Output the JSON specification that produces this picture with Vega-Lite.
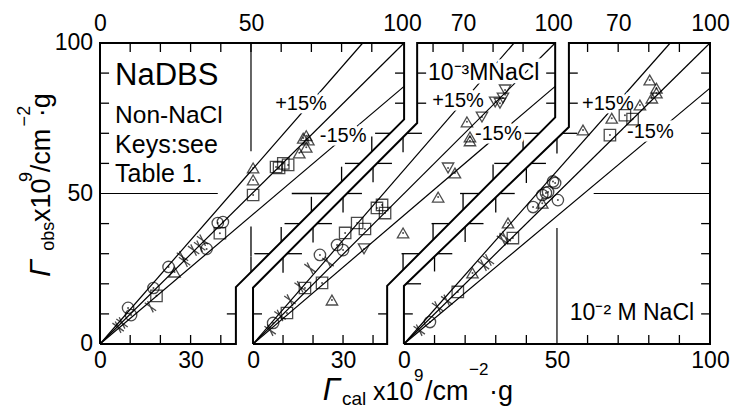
{
"$schema":"https://vega.github.io/schema/vega-lite/v6.json",
"width":610,"height":301,"autosize":"none",
"padding":{"left":100,"top":43,"right":21,"bottom":65},
"background":"white",
"config":{"view":{"stroke":null},"font":"Liberation Sans",
 "axis":{"domain":false,"grid":false,"ticks":false,"tickSize":0,"labelFont":"Liberation Sans","labelFontSize":23,"labelColor":"black","labelOverlap":false,"labelFlush":false}},
"datasets":{
 "one":[{}],
 "ylab":[{"v":0,"t":"0"},{"v":50,"t":"50"},{"v":100,"t":"100"}],
 "frames":[
  {"p":"A","o":0,"x":0,"y":0},{"p":"A","o":1,"x":0,"y":100},{"p":"A","o":2,"x":100.7,"y":100},{"p":"A","o":3,"x":100.7,"y":74.6},{"p":"A","o":4,"x":45,"y":18.9},{"p":"A","o":5,"x":45,"y":0},{"p":"A","o":6,"x":0,"y":0},
  {"p":"B","o":0,"x":0,"y":0},{"p":"B","o":1,"x":0,"y":18.7},{"p":"B","o":2,"x":54.7,"y":73.4},{"p":"B","o":3,"x":54.7,"y":100},{"p":"B","o":4,"x":100.7,"y":100},{"p":"B","o":5,"x":100.7,"y":75.3},{"p":"B","o":6,"x":44.7,"y":19.3},{"p":"B","o":7,"x":44.7,"y":0},{"p":"B","o":8,"x":0,"y":0},
  {"p":"C","o":0,"x":0,"y":0},{"p":"C","o":1,"x":0,"y":19.3},{"p":"C","o":2,"x":53.9,"y":72.1},{"p":"C","o":3,"x":53.9,"y":100},{"p":"C","o":4,"x":100,"y":100},{"p":"C","o":5,"x":100,"y":0},{"p":"C","o":6,"x":0,"y":0}
 ],
 "refs":[
  {"p":"A","l":"c","o":0,"x":0,"y":0},{"p":"A","l":"c","o":1,"x":100.7,"y":100},
  {"p":"A","l":"u","o":0,"x":0,"y":0},{"p":"A","l":"u","o":1,"x":87,"y":100},
  {"p":"A","l":"d","o":0,"x":0,"y":0},{"p":"A","l":"d","o":1,"x":100.7,"y":85.6},
  {"p":"B","l":"c","o":0,"x":0,"y":0},{"p":"B","l":"c","o":1,"x":100.7,"y":100},
  {"p":"B","l":"u","o":0,"x":0,"y":0},{"p":"B","l":"u","o":1,"x":87,"y":100},
  {"p":"B","l":"d","o":0,"x":0,"y":0},{"p":"B","l":"d","o":1,"x":100.7,"y":85.6},
  {"p":"C","l":"c","o":0,"x":0,"y":0},{"p":"C","l":"c","o":1,"x":100,"y":100},
  {"p":"C","l":"u","o":0,"x":0,"y":0},{"p":"C","l":"u","o":1,"x":87,"y":100},
  {"p":"C","l":"d","o":0,"x":0,"y":0},{"p":"C","l":"d","o":1,"x":100,"y":85}
 ],
 "ticks":[
  {"p":"A","x":10,"y":0,"x2":10,"y2":3},{"p":"A","x":20,"y":0,"x2":20,"y2":3},{"p":"A","x":30,"y":0,"x2":30,"y2":3},{"p":"A","x":40,"y":0,"x2":40,"y2":3},
  {"p":"A","x":10,"y":100,"x2":10,"y2":97},{"p":"A","x":20,"y":100,"x2":20,"y2":97},{"p":"A","x":30,"y":100,"x2":30,"y2":97},{"p":"A","x":40,"y":100,"x2":40,"y2":97},{"p":"A","x":50,"y":100,"x2":50,"y2":97},{"p":"A","x":60,"y":100,"x2":60,"y2":97},{"p":"A","x":70,"y":100,"x2":70,"y2":97},{"p":"A","x":80,"y":100,"x2":80,"y2":97},{"p":"A","x":90,"y":100,"x2":90,"y2":97},
  {"p":"A","x":0,"y":10,"x2":3,"y2":10},{"p":"A","x":0,"y":20,"x2":3,"y2":20},{"p":"A","x":0,"y":30,"x2":3,"y2":30},{"p":"A","x":0,"y":40,"x2":3,"y2":40},{"p":"A","x":0,"y":60,"x2":3,"y2":60},{"p":"A","x":0,"y":70,"x2":3,"y2":70},{"p":"A","x":0,"y":80,"x2":3,"y2":80},{"p":"A","x":0,"y":90,"x2":3,"y2":90},
  {"p":"A","x":45,"y":10,"x2":42,"y2":10},{"p":"A","x":100.7,"y":80,"x2":97.7,"y2":80},{"p":"A","x":100.7,"y":90,"x2":97.7,"y2":90},
  {"p":"A","x":50,"y":23.9,"x2":50,"y2":28.9},{"p":"A","x":60,"y":33.9,"x2":60,"y2":38.9},{"p":"A","x":70,"y":43.9,"x2":70,"y2":48.9},{"p":"A","x":80,"y":53.9,"x2":80,"y2":58.9},{"p":"A","x":90,"y":63.9,"x2":90,"y2":68.9},
  {"p":"A","x":56.1,"y":30,"x2":51.1,"y2":30},{"p":"A","x":66.1,"y":40,"x2":61.1,"y2":40},{"p":"A","x":76.1,"y":50,"x2":63.5,"y2":50},{"p":"A","x":86.1,"y":60,"x2":81.1,"y2":60},{"p":"A","x":96.1,"y":70,"x2":91.1,"y2":70},
  {"p":"A","x":50,"y":29,"x2":50,"y2":39},
  {"p":"B","x":10,"y":0,"x2":10,"y2":3},{"p":"B","x":20,"y":0,"x2":20,"y2":3},{"p":"B","x":30,"y":0,"x2":30,"y2":3},{"p":"B","x":40,"y":0,"x2":40,"y2":3},
  {"p":"B","x":60,"y":100,"x2":60,"y2":97},{"p":"B","x":70,"y":100,"x2":70,"y2":97},{"p":"B","x":80,"y":100,"x2":80,"y2":97},{"p":"B","x":90,"y":100,"x2":90,"y2":97},
  {"p":"B","x":0,"y":10,"x2":3,"y2":10},{"p":"B","x":54.7,"y":80,"x2":57.7,"y2":80},{"p":"B","x":54.7,"y":90,"x2":57.7,"y2":90},
  {"p":"B","x":44.7,"y":10,"x2":41.7,"y2":10},{"p":"B","x":100.7,"y":80,"x2":97.7,"y2":80},{"p":"B","x":100.7,"y":90,"x2":97.7,"y2":90},
  {"p":"B","x":10,"y":28.7,"x2":10,"y2":23.7},{"p":"B","x":20,"y":38.7,"x2":20,"y2":33.7},{"p":"B","x":30,"y":48.7,"x2":30,"y2":43.7},{"p":"B","x":40,"y":58.7,"x2":40,"y2":53.7},{"p":"B","x":50,"y":68.7,"x2":50,"y2":63.7},
  {"p":"B","x":11.3,"y":30,"x2":16.3,"y2":30},{"p":"B","x":21.3,"y":40,"x2":26.3,"y2":40},{"p":"B","x":31.3,"y":50,"x2":36.3,"y2":50},{"p":"B","x":41.3,"y":60,"x2":46.3,"y2":60},{"p":"B","x":51.3,"y":70,"x2":56.3,"y2":70},
  {"p":"B","x":50,"y":24.6,"x2":50,"y2":30},{"p":"B","x":60,"y":34.6,"x2":60,"y2":40},{"p":"B","x":70,"y":44.6,"x2":70,"y2":50},{"p":"B","x":80,"y":54.6,"x2":80,"y2":59.6},{"p":"B","x":90,"y":64.6,"x2":90,"y2":69.6},
  {"p":"B","x":55.4,"y":30,"x2":49.5,"y2":30},{"p":"B","x":65.4,"y":40,"x2":59.5,"y2":40},{"p":"B","x":75.4,"y":50,"x2":69,"y2":50},{"p":"B","x":85.4,"y":60,"x2":80.4,"y2":60},{"p":"B","x":95.4,"y":70,"x2":90.4,"y2":70},
  {"p":"C","x":10,"y":0,"x2":10,"y2":3},{"p":"C","x":20,"y":0,"x2":20,"y2":3},{"p":"C","x":30,"y":0,"x2":30,"y2":3},{"p":"C","x":40,"y":0,"x2":40,"y2":3},{"p":"C","x":60,"y":0,"x2":60,"y2":3},{"p":"C","x":70,"y":0,"x2":70,"y2":3},{"p":"C","x":80,"y":0,"x2":80,"y2":3},{"p":"C","x":90,"y":0,"x2":90,"y2":3},
  {"p":"C","x":60,"y":100,"x2":60,"y2":97},{"p":"C","x":70,"y":100,"x2":70,"y2":97},{"p":"C","x":80,"y":100,"x2":80,"y2":97},{"p":"C","x":90,"y":100,"x2":90,"y2":97},
  {"p":"C","x":100,"y":10,"x2":97.1,"y2":10},{"p":"C","x":100,"y":20,"x2":97.1,"y2":20},{"p":"C","x":100,"y":30,"x2":97.1,"y2":30},{"p":"C","x":100,"y":40,"x2":97.1,"y2":40},{"p":"C","x":100,"y":60,"x2":97.1,"y2":60},{"p":"C","x":100,"y":70,"x2":97.1,"y2":70},{"p":"C","x":100,"y":80,"x2":97.1,"y2":80},{"p":"C","x":100,"y":90,"x2":97.1,"y2":90},
  {"p":"C","x":0,"y":10,"x2":2.9,"y2":10},{"p":"C","x":53.9,"y":80,"x2":56.8,"y2":80},{"p":"C","x":53.9,"y":90,"x2":56.8,"y2":90},
  {"p":"C","x":10,"y":29.1,"x2":10,"y2":24.1},{"p":"C","x":20,"y":38.9,"x2":20,"y2":33.9},{"p":"C","x":30,"y":48.7,"x2":30,"y2":43.7},{"p":"C","x":40,"y":58.5,"x2":40,"y2":53.5},{"p":"C","x":50,"y":68.3,"x2":50,"y2":63.3},
  {"p":"C","x":0.7,"y":20,"x2":5.6,"y2":20},{"p":"C","x":10.9,"y":30,"x2":15.8,"y2":30},{"p":"C","x":21.1,"y":40,"x2":26,"y2":40},{"p":"C","x":31.3,"y":50,"x2":36.2,"y2":50},{"p":"C","x":41.5,"y":60,"x2":46.4,"y2":60},{"p":"C","x":51.7,"y":70,"x2":56.6,"y2":70}
 ],
 "pts":[
  {"p":"A","k":"cross","x":6,"y":5.6},{"p":"A","k":"cross","x":7.3,"y":7},{"p":"A","k":"cross","x":16.7,"y":12.4},{"p":"A","k":"cross","x":27.3,"y":29},{"p":"A","k":"cross","x":28,"y":27.5},{"p":"A","k":"cross","x":31,"y":31.2},{"p":"A","k":"cross","x":34,"y":34.5},{"p":"A","k":"cross","x":33,"y":32.5},
  {"p":"A","k":"circle","x":9.3,"y":12},{"p":"A","k":"circle","x":10.3,"y":9.6},{"p":"A","k":"circle","x":17.7,"y":18.6},{"p":"A","k":"circle","x":22.7,"y":25.6},{"p":"A","k":"circle","x":35.3,"y":31.6},{"p":"A","k":"circle","x":39,"y":40.2},{"p":"A","k":"circle","x":40.7,"y":40.5},
  {"p":"A","k":"square","x":18.7,"y":16},{"p":"A","k":"square","x":39.7,"y":36.8},{"p":"A","k":"square","x":50.7,"y":49.5},{"p":"A","k":"square","x":58.3,"y":58.8},{"p":"A","k":"square","x":59.3,"y":58.5},{"p":"A","k":"square","x":60.7,"y":60},{"p":"A","k":"square","x":62.3,"y":59.5},
  {"p":"A","k":"up","x":24.7,"y":23.9},{"p":"A","k":"up","x":50.7,"y":54.5},{"p":"A","k":"up","x":50.7,"y":58.5},{"p":"A","k":"up","x":66,"y":63.5},{"p":"A","k":"up","x":68.3,"y":65.4},{"p":"A","k":"up","x":67.3,"y":68.4},{"p":"A","k":"up","x":69,"y":67.8},{"p":"A","k":"up","x":68.3,"y":69.2},
  {"p":"B","k":"circle","x":6.7,"y":7},{"p":"B","k":"circle","x":22.3,"y":29.6},{"p":"B","k":"circle","x":28,"y":32.9},{"p":"B","k":"circle","x":30,"y":31.2},
  {"p":"B","k":"cross","x":5.7,"y":4.6},{"p":"B","k":"cross","x":9,"y":9.5},{"p":"B","k":"cross","x":12.3,"y":14.6},{"p":"B","k":"cross","x":15.7,"y":19},{"p":"B","k":"cross","x":19,"y":25.2},{"p":"B","k":"cross","x":25,"y":27.2},
  {"p":"B","k":"square","x":11.3,"y":10.3},{"p":"B","k":"square","x":17.3,"y":18.6},{"p":"B","k":"square","x":23,"y":20.3},{"p":"B","k":"square","x":30.7,"y":36.9},{"p":"B","k":"square","x":34.7,"y":40.2},{"p":"B","k":"square","x":37.3,"y":38.2},{"p":"B","k":"square","x":41.3,"y":45.2},{"p":"B","k":"square","x":44,"y":43.5},{"p":"B","k":"square","x":43,"y":46.2},
  {"p":"B","k":"up","x":26.3,"y":14.6},{"p":"B","k":"up","x":50,"y":36.9},{"p":"B","k":"up","x":61.7,"y":48.8},{"p":"B","k":"up","x":67.3,"y":56.8},{"p":"B","k":"up","x":71.3,"y":73.8},{"p":"B","k":"up","x":72.3,"y":68.8},{"p":"B","k":"up","x":72.3,"y":67.5},
  {"p":"B","k":"down","x":37,"y":31.6},{"p":"B","k":"down","x":65,"y":58.5},{"p":"B","k":"down","x":76.3,"y":75.4},{"p":"B","k":"down","x":80.7,"y":80.4},{"p":"B","k":"down","x":82.3,"y":80},{"p":"B","k":"down","x":83.3,"y":81.7},{"p":"B","k":"down","x":84,"y":84.4},
  {"p":"C","k":"circle","x":8.5,"y":7.3},{"p":"C","k":"circle","x":42.2,"y":45.5},{"p":"C","k":"circle","x":46.4,"y":50.2},{"p":"C","k":"circle","x":49.4,"y":53.5},{"p":"C","k":"circle","x":50.3,"y":47.8},{"p":"C","k":"circle","x":48.7,"y":54},{"p":"C","k":"circle","x":47.1,"y":50.5},{"p":"C","k":"circle","x":45.2,"y":49.5},
  {"p":"C","k":"cross","x":5,"y":4.6},{"p":"C","k":"cross","x":11,"y":12.3},{"p":"C","k":"cross","x":14,"y":14.5},{"p":"C","k":"cross","x":26,"y":26.2},{"p":"C","k":"cross","x":27.6,"y":27.9},{"p":"C","k":"cross","x":32.2,"y":34.6},{"p":"C","k":"cross","x":33.1,"y":35.5},
  {"p":"C","k":"square","x":17.6,"y":17.3},{"p":"C","k":"square","x":35.6,"y":35.2},{"p":"C","k":"square","x":67.3,"y":69.4},{"p":"C","k":"square","x":72.2,"y":76},{"p":"C","k":"square","x":74.7,"y":74.7},
  {"p":"C","k":"up","x":22.4,"y":23.6},{"p":"C","k":"up","x":34,"y":40.2},{"p":"C","k":"up","x":45.2,"y":46.8},{"p":"C","k":"up","x":58.5,"y":71.1},{"p":"C","k":"up","x":67.9,"y":75},{"p":"C","k":"up","x":77.1,"y":79.4},{"p":"C","k":"up","x":80.3,"y":87.7},{"p":"C","k":"up","x":82.5,"y":85},{"p":"C","k":"up","x":81,"y":81.7},{"p":"C","k":"up","x":82.5,"y":83.4}
 ]
},
"layer":[
 {"layer":[
  {"data":{"name":"frames"},"transform":[{"filter":"datum.p=='A'"}],
   "mark":{"type":"line","stroke":"black","strokeWidth":2},
   "encoding":{
    "x":{"field":"x","type":"quantitative","scale":{"domain":[0,202],"nice":false,"zero":false},"axis":{"orient":"bottom","title":null,"values":[0,30],"labelPadding":5}},
    "y":{"field":"y","type":"quantitative","scale":{"domain":[0,100],"nice":false,"zero":false},"axis":null},
    "order":{"field":"o"}}},
  {"data":{"name":"refs"},"transform":[{"filter":"datum.p=='A'"}],
   "mark":{"type":"line","stroke":"black","strokeWidth":1.2},
   "encoding":{
    "x":{"field":"x","type":"quantitative","scale":{"domain":[0,202],"nice":false,"zero":false},"axis":{"orient":"top","title":null,"values":[0,50,100],"labelPadding":8}},
    "y":{"field":"y","type":"quantitative","axis":null},
    "detail":{"field":"l"},"order":{"field":"o"}}},
  {"data":{"name":"ticks"},"transform":[{"filter":"datum.p=='A'"}],
   "mark":{"type":"rule","stroke":"black","strokeWidth":1.3},
   "encoding":{"x":{"field":"x","type":"quantitative","axis":null},"y":{"field":"y","type":"quantitative","axis":null},"x2":{"field":"x2"},"y2":{"field":"y2"}}},
  {"data":{"name":"ylab"},
   "mark":{"type":"text","font":"Liberation Sans","fontSize":23,"align":"right","baseline":"middle","dx":-7},
   "encoding":{"x":{"datum":0,"type":"quantitative","axis":null},"y":{"field":"v","type":"quantitative","axis":null},"text":{"field":"t"}}},
  {"data":{"name":"one"},"mark":{"type":"rule","stroke":"black","strokeWidth":1.2},
   "encoding":{"x":{"datum":50,"type":"quantitative","axis":null},"y":{"datum":64,"type":"quantitative","axis":null},"y2":{"datum":100}}},
  {"data":{"name":"one"},"mark":{"type":"rule","stroke":"black","strokeWidth":1.2},
   "encoding":{"x":{"datum":0,"type":"quantitative","axis":null},"x2":{"datum":39},"y":{"datum":50,"type":"quantitative","axis":null}}},
  {"data":{"name":"one"},"mark":{"type":"text","font":"Liberation Sans","fontSize":20,"align":"left","baseline":"alphabetic","stroke":"white","strokeWidth":7},
   "encoding":{"x":{"datum":58,"type":"quantitative","axis":null},"y":{"datum":77.7,"type":"quantitative","axis":null},"text":{"value":"+15%"}}},
  {"data":{"name":"one"},"mark":{"type":"text","font":"Liberation Sans","fontSize":20,"align":"left","baseline":"alphabetic","stroke":"white","strokeWidth":7},
   "encoding":{"x":{"datum":72.8,"type":"quantitative","axis":null},"y":{"datum":67.1,"type":"quantitative","axis":null},"text":{"value":"-15%"}}},
  {"data":{"name":"pts"},"transform":[{"filter":"datum.p=='A'"}],
   "mark":{"type":"point","filled":false,"stroke":"black","strokeWidth":1.3,"size":130},
   "encoding":{
    "x":{"field":"x","type":"quantitative","axis":null},
    "y":{"field":"y","type":"quantitative","axis":null},
    "shape":{"field":"k","type":"nominal","legend":null,"scale":{"domain":["circle","square","up","down","cross"],"range":["circle","square","triangle-up","triangle-down","M-1,-0.7L1,0.7M-0.5,-1L0.5,1"]}}}},
  {"data":{"name":"pts"},"transform":[{"filter":"datum.p=='A' && datum.k!='cross'"}],
   "mark":{"type":"point","filled":true,"color":"black","size":4},
   "encoding":{"x":{"field":"x","type":"quantitative","axis":null},"y":{"field":"y","type":"quantitative","axis":null}}},
  {"data":{"name":"one"},"mark":{"type":"text","font":"Liberation Sans","fontSize":31,"align":"left","baseline":"alphabetic"},
   "encoding":{"x":{"datum":5,"type":"quantitative","axis":null},"y":{"datum":86,"type":"quantitative","axis":null},"text":{"value":"NaDBS"}}},
  {"data":{"name":"one"},"mark":{"type":"text","font":"Liberation Sans","fontSize":24.5,"align":"left","baseline":"alphabetic"},
   "encoding":{"x":{"datum":5,"type":"quantitative","axis":null},"y":{"datum":73.4,"type":"quantitative","axis":null},"text":{"value":"Non-NaCl"}}},
  {"data":{"name":"one"},"mark":{"type":"text","font":"Liberation Sans","fontSize":25,"align":"left","baseline":"alphabetic"},
   "encoding":{"x":{"datum":5,"type":"quantitative","axis":null},"y":{"datum":63.5,"type":"quantitative","axis":null},"text":{"value":"Keys:see"}}},
  {"data":{"name":"one"},"mark":{"type":"text","font":"Liberation Sans","fontSize":25,"align":"left","baseline":"alphabetic"},
   "encoding":{"x":{"datum":5,"type":"quantitative","axis":null},"y":{"datum":53.8,"type":"quantitative","axis":null},"text":{"value":"Table 1."}}},
  {"data":{"name":"one"},"mark":{"type":"text","font":"Liberation Sans","fontSize":20,"align":"left","baseline":"alphabetic"},
   "encoding":{"x":{"datum":58,"type":"quantitative","axis":null},"y":{"datum":77.7,"type":"quantitative","axis":null},"text":{"value":"+15%"}}},
  {"data":{"name":"one"},"mark":{"type":"text","font":"Liberation Sans","fontSize":20,"align":"left","baseline":"alphabetic"},
   "encoding":{"x":{"datum":72.8,"type":"quantitative","axis":null},"y":{"datum":67.1,"type":"quantitative","axis":null},"text":{"value":"-15%"}}},
  {"data":{"name":"one"},"mark":{"type":"text","font":"Liberation Sans","fontSize":31,"fontStyle":"italic","align":"left","baseline":"alphabetic"},
   "encoding":{"x":{"datum":73.8,"type":"quantitative","axis":null},"y":{"datum":-18.6,"type":"quantitative","axis":null},"text":{"value":"Γ"}}},
  {"data":{"name":"one"},"mark":{"type":"text","font":"Liberation Sans","fontSize":19,"align":"left","baseline":"alphabetic"},
   "encoding":{"x":{"datum":80.1,"type":"quantitative","axis":null},"y":{"datum":-20.2,"type":"quantitative","axis":null},"text":{"value":"cal"}}},
  {"data":{"name":"one"},"mark":{"type":"text","font":"Liberation Sans","fontSize":25,"align":"left","baseline":"alphabetic"},
   "encoding":{"x":{"datum":90.4,"type":"quantitative","axis":null},"y":{"datum":-18.6,"type":"quantitative","axis":null},"text":{"value":"x10"}}},
  {"data":{"name":"one"},"mark":{"type":"text","font":"Liberation Sans","fontSize":17,"align":"left","baseline":"alphabetic"},
   "encoding":{"x":{"datum":104,"type":"quantitative","axis":null},"y":{"datum":-12.3,"type":"quantitative","axis":null},"text":{"value":"9"}}},
  {"data":{"name":"one"},"mark":{"type":"text","font":"Liberation Sans","fontSize":27,"align":"left","baseline":"alphabetic"},
   "encoding":{"x":{"datum":107.6,"type":"quantitative","axis":null},"y":{"datum":-18.6,"type":"quantitative","axis":null},"text":{"value":"/cm"}}},
  {"data":{"name":"one"},"mark":{"type":"text","font":"Liberation Sans","fontSize":17,"align":"left","baseline":"alphabetic"},
   "encoding":{"x":{"datum":122.2,"type":"quantitative","axis":null},"y":{"datum":-10.3,"type":"quantitative","axis":null},"text":{"value":"−2"}}},
  {"data":{"name":"one"},"mark":{"type":"text","font":"Liberation Sans","fontSize":27,"align":"left","baseline":"alphabetic"},
   "encoding":{"x":{"datum":128.8,"type":"quantitative","axis":null},"y":{"datum":-18.6,"type":"quantitative","axis":null},"text":{"value":"·g"}}},
  {"data":{"name":"one"},"mark":{"type":"text","font":"Liberation Sans","fontSize":30,"fontStyle":"italic","align":"left","baseline":"alphabetic","angle":270},
   "encoding":{"x":{"datum":-16.6,"type":"quantitative","axis":null},"y":{"datum":22.3,"type":"quantitative","axis":null},"text":{"value":"Γ"}}},
  {"data":{"name":"one"},"mark":{"type":"text","font":"Liberation Sans","fontSize":18,"align":"left","baseline":"alphabetic","angle":270},
   "encoding":{"x":{"datum":-15.2,"type":"quantitative","axis":null},"y":{"datum":31,"type":"quantitative","axis":null},"text":{"value":"obs"}}},
  {"data":{"name":"one"},"mark":{"type":"text","font":"Liberation Sans","fontSize":27,"align":"left","baseline":"alphabetic","angle":270},
   "encoding":{"x":{"datum":-16.6,"type":"quantitative","axis":null},"y":{"datum":40.5,"type":"quantitative","axis":null},"text":{"value":"x10"}}},
  {"data":{"name":"one"},"mark":{"type":"text","font":"Liberation Sans","fontSize":18,"align":"left","baseline":"alphabetic","angle":270},
   "encoding":{"x":{"datum":-22.5,"type":"quantitative","axis":null},"y":{"datum":53.8,"type":"quantitative","axis":null},"text":{"value":"9"}}},
  {"data":{"name":"one"},"mark":{"type":"text","font":"Liberation Sans","fontSize":27,"align":"left","baseline":"alphabetic","angle":270},
   "encoding":{"x":{"datum":-16.6,"type":"quantitative","axis":null},"y":{"datum":57.1,"type":"quantitative","axis":null},"text":{"value":"/cm"}}},
  {"data":{"name":"one"},"mark":{"type":"text","font":"Liberation Sans","fontSize":18,"align":"left","baseline":"alphabetic","angle":270},
   "encoding":{"x":{"datum":-23.2,"type":"quantitative","axis":null},"y":{"datum":72.3,"type":"quantitative","axis":null},"text":{"value":"−2"}}},
  {"data":{"name":"one"},"mark":{"type":"text","font":"Liberation Sans","fontSize":27,"align":"left","baseline":"alphabetic","angle":270},
   "encoding":{"x":{"datum":-16.6,"type":"quantitative","axis":null},"y":{"datum":75.3,"type":"quantitative","axis":null},"text":{"value":"·g"}}}
  ],
  "resolve":{"axis":{"x":"independent"}}},
 {"layer":[
  {"data":{"name":"frames"},"transform":[{"filter":"datum.p=='B'"}],
   "mark":{"type":"line","stroke":"black","strokeWidth":2},
   "encoding":{
    "x":{"field":"x","type":"quantitative","scale":{"domain":[-51,152.3],"nice":false,"zero":false},"axis":{"orient":"bottom","title":null,"values":[0,30],"labelPadding":5}},
    "y":{"field":"y","type":"quantitative","axis":null},
    "order":{"field":"o"}}},
  {"data":{"name":"refs"},"transform":[{"filter":"datum.p=='B'"}],
   "mark":{"type":"line","stroke":"black","strokeWidth":1.2},
   "encoding":{
    "x":{"field":"x","type":"quantitative","scale":{"domain":[-51,152.3],"nice":false,"zero":false},"axis":{"orient":"top","title":null,"values":[70,100],"labelPadding":8}},
    "y":{"field":"y","type":"quantitative","axis":null},
    "detail":{"field":"l"},"order":{"field":"o"}}},
  {"data":{"name":"ticks"},"transform":[{"filter":"datum.p=='B'"}],
   "mark":{"type":"rule","stroke":"black","strokeWidth":1.3},
   "encoding":{"x":{"field":"x","type":"quantitative","axis":null},"y":{"field":"y","type":"quantitative","axis":null},"x2":{"field":"x2"},"y2":{"field":"y2"}}},
  {"data":{"name":"one"},"mark":{"type":"text","font":"Liberation Sans","fontSize":20,"align":"left","baseline":"alphabetic","stroke":"white","strokeWidth":7},
   "encoding":{"x":{"datum":59.7,"type":"quantitative","axis":null},"y":{"datum":78.7,"type":"quantitative","axis":null},"text":{"value":"+15%"}}},
  {"data":{"name":"one"},"mark":{"type":"text","font":"Liberation Sans","fontSize":20,"align":"left","baseline":"alphabetic","stroke":"white","strokeWidth":7},
   "encoding":{"x":{"datum":74,"type":"quantitative","axis":null},"y":{"datum":67.8,"type":"quantitative","axis":null},"text":{"value":"-15%"}}},
  {"data":{"name":"one"},"mark":{"type":"text","font":"Liberation Sans","fontSize":23,"align":"left","baseline":"alphabetic","stroke":"white","strokeWidth":7},
   "encoding":{"x":{"datum":58.3,"type":"quantitative","axis":null},"y":{"datum":87.7,"type":"quantitative","axis":null},"text":{"value":"10⁻³MNaCl"}}},
  {"data":{"name":"pts"},"transform":[{"filter":"datum.p=='B'"}],
   "mark":{"type":"point","filled":false,"stroke":"black","strokeWidth":1.3,"size":130},
   "encoding":{
    "x":{"field":"x","type":"quantitative","axis":null},
    "y":{"field":"y","type":"quantitative","axis":null},
    "shape":{"field":"k","type":"nominal","legend":null,"scale":{"domain":["circle","square","up","down","cross"],"range":["circle","square","triangle-up","triangle-down","M-1,-0.7L1,0.7M-0.5,-1L0.5,1"]}}}},
  {"data":{"name":"pts"},"transform":[{"filter":"datum.p=='B' && datum.k!='cross'"}],
   "mark":{"type":"point","filled":true,"color":"black","size":4},
   "encoding":{"x":{"field":"x","type":"quantitative","axis":null},"y":{"field":"y","type":"quantitative","axis":null}}},
  {"data":{"name":"one"},"mark":{"type":"text","font":"Liberation Sans","fontSize":23,"align":"left","baseline":"alphabetic"},
   "encoding":{"x":{"datum":58.3,"type":"quantitative","axis":null},"y":{"datum":87.7,"type":"quantitative","axis":null},"text":{"value":"10⁻³MNaCl"}}},
  {"data":{"name":"one"},"mark":{"type":"text","font":"Liberation Sans","fontSize":20,"align":"left","baseline":"alphabetic"},
   "encoding":{"x":{"datum":59.7,"type":"quantitative","axis":null},"y":{"datum":78.7,"type":"quantitative","axis":null},"text":{"value":"+15%"}}},
  {"data":{"name":"one"},"mark":{"type":"text","font":"Liberation Sans","fontSize":20,"align":"left","baseline":"alphabetic"},
   "encoding":{"x":{"datum":74,"type":"quantitative","axis":null},"y":{"datum":67.8,"type":"quantitative","axis":null},"text":{"value":"-15%"}}}
  ],
  "resolve":{"axis":{"x":"independent"}}},
 {"layer":[
  {"data":{"name":"frames"},"transform":[{"filter":"datum.p=='C'"}],
   "mark":{"type":"line","stroke":"black","strokeWidth":2},
   "encoding":{
    "x":{"field":"x","type":"quantitative","scale":{"domain":[-99.3,100],"nice":false,"zero":false},"axis":{"orient":"bottom","title":null,"values":[0,50,100],"labelPadding":5}},
    "y":{"field":"y","type":"quantitative","axis":null},
    "order":{"field":"o"}}},
  {"data":{"name":"refs"},"transform":[{"filter":"datum.p=='C'"}],
   "mark":{"type":"line","stroke":"black","strokeWidth":1.2},
   "encoding":{
    "x":{"field":"x","type":"quantitative","scale":{"domain":[-99.3,100],"nice":false,"zero":false},"axis":{"orient":"top","title":null,"values":[70,100],"labelPadding":8}},
    "y":{"field":"y","type":"quantitative","axis":null},
    "detail":{"field":"l"},"order":{"field":"o"}}},
  {"data":{"name":"ticks"},"transform":[{"filter":"datum.p=='C'"}],
   "mark":{"type":"rule","stroke":"black","strokeWidth":1.3},
   "encoding":{"x":{"field":"x","type":"quantitative","axis":null},"y":{"field":"y","type":"quantitative","axis":null},"x2":{"field":"x2"},"y2":{"field":"y2"}}},
  {"data":{"name":"one"},"mark":{"type":"rule","stroke":"black","strokeWidth":1.2},
   "encoding":{"x":{"datum":50,"type":"quantitative","axis":null},"y":{"datum":0,"type":"quantitative","axis":null},"y2":{"datum":38.5}}},
  {"data":{"name":"one"},"mark":{"type":"rule","stroke":"black","strokeWidth":1.2},
   "encoding":{"x":{"datum":62,"type":"quantitative","axis":null},"x2":{"datum":100},"y":{"datum":50,"type":"quantitative","axis":null}}},
  {"data":{"name":"one"},"mark":{"type":"text","font":"Liberation Sans","fontSize":20,"align":"left","baseline":"alphabetic","stroke":"white","strokeWidth":7},
   "encoding":{"x":{"datum":58.2,"type":"quantitative","axis":null},"y":{"datum":77.7,"type":"quantitative","axis":null},"text":{"value":"+15%"}}},
  {"data":{"name":"one"},"mark":{"type":"text","font":"Liberation Sans","fontSize":20,"align":"left","baseline":"alphabetic","stroke":"white","strokeWidth":7},
   "encoding":{"x":{"datum":72.9,"type":"quantitative","axis":null},"y":{"datum":68.4,"type":"quantitative","axis":null},"text":{"value":"-15%"}}},
  {"data":{"name":"pts"},"transform":[{"filter":"datum.p=='C'"}],
   "mark":{"type":"point","filled":false,"stroke":"black","strokeWidth":1.3,"size":130},
   "encoding":{
    "x":{"field":"x","type":"quantitative","axis":null},
    "y":{"field":"y","type":"quantitative","axis":null},
    "shape":{"field":"k","type":"nominal","legend":null,"scale":{"domain":["circle","square","up","down","cross"],"range":["circle","square","triangle-up","triangle-down","M-1,-0.7L1,0.7M-0.5,-1L0.5,1"]}}}},
  {"data":{"name":"pts"},"transform":[{"filter":"datum.p=='C' && datum.k!='cross'"}],
   "mark":{"type":"point","filled":true,"color":"black","size":4},
   "encoding":{"x":{"field":"x","type":"quantitative","axis":null},"y":{"field":"y","type":"quantitative","axis":null}}},
  {"data":{"name":"one"},"mark":{"type":"text","font":"Liberation Sans","fontSize":20,"align":"left","baseline":"alphabetic"},
   "encoding":{"x":{"datum":58.2,"type":"quantitative","axis":null},"y":{"datum":77.7,"type":"quantitative","axis":null},"text":{"value":"+15%"}}},
  {"data":{"name":"one"},"mark":{"type":"text","font":"Liberation Sans","fontSize":20,"align":"left","baseline":"alphabetic"},
   "encoding":{"x":{"datum":72.9,"type":"quantitative","axis":null},"y":{"datum":68.4,"type":"quantitative","axis":null},"text":{"value":"-15%"}}},
  {"data":{"name":"one"},"mark":{"type":"text","font":"Liberation Sans","fontSize":23,"align":"left","baseline":"alphabetic"},
   "encoding":{"x":{"datum":54.2,"type":"quantitative","axis":null},"y":{"datum":8,"type":"quantitative","axis":null},"text":{"value":"10⁻² M NaCl"}}}
  ],
  "resolve":{"axis":{"x":"independent"}}}
],
"resolve":{"scale":{"x":"independent"},"axis":{"x":"independent"}}
}
